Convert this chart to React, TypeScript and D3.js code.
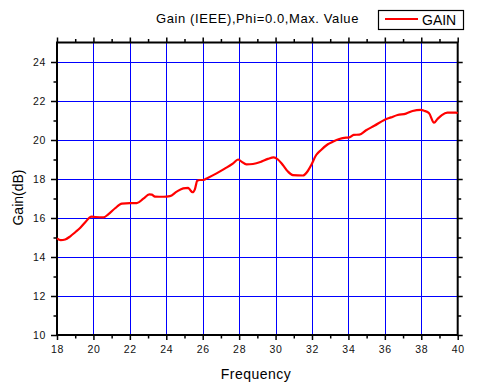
import { useEffect, useRef } from 'react';
import * as d3 from 'd3';

const frequency = [
  18.0, 18.2, 18.45, 18.73, 19.0, 19.28, 19.55, 19.78, 19.9, 20.1, 20.55, 20.83,
  21.19, 21.56, 22.0, 22.38, 22.74, 23.07, 23.2, 23.38, 23.84, 24.2, 24.57, 24.93,
  25.2, 25.3, 25.44, 25.57, 25.7, 25.84, 26.02, 26.3, 26.76, 27.21, 27.67, 27.94,
  28.13, 28.4, 28.76, 29.22, 29.58, 29.9, 30.13, 30.4, 30.68, 30.95, 31.5, 31.77,
  31.96, 32.23, 32.5, 32.87, 33.14, 33.5, 33.87, 34.05, 34.29, 34.6, 34.97, 35.42,
  35.97, 36.34, 36.7, 37.16, 37.52, 37.98, 38.16, 38.43, 38.7, 38.89, 39.13, 39.43,
  39.9, 40.0,
];

const gain = [
  14.96, 14.87, 14.9, 15.06, 15.27, 15.5, 15.78, 16.02, 16.07, 16.05, 16.03, 16.2,
  16.5, 16.74, 16.76, 16.76, 16.99, 17.21, 17.2, 17.1, 17.09, 17.12, 17.35, 17.52,
  17.55, 17.45, 17.32, 17.47, 17.91, 17.95, 17.95, 18.07, 18.29, 18.53, 18.8, 19.0,
  18.89, 18.75, 18.77, 18.89, 19.03, 19.11, 19.0, 18.72, 18.38, 18.2, 18.18, 18.41,
  18.72, 19.23, 19.49, 19.78, 19.91, 20.05, 20.12, 20.13, 20.26, 20.28, 20.5, 20.73,
  21.03, 21.16, 21.28, 21.35, 21.49, 21.55, 21.5, 21.37, 20.89, 21.08, 21.28, 21.4,
  21.4, 21.38,
];

const xTicks = [18, 20, 22, 24, 26, 28, 30, 32, 34, 36, 38, 40];
const yTicks = [10, 12, 14, 16, 18, 20, 22, 24];

const title = 'Gain (IEEE),Phi=0.0,Max. Value';
const seriesName = 'GAIN';
const xLabel = 'Frequency';
const yLabel = 'Gain(dB)';

const FONT = "Arial, 'Liberation Sans', sans-serif";

export default function App() {
  const svgRef = useRef<SVGSVGElement>(null);
  const width = 496;
  const height = 386;

  useEffect(() => {
    if (!svgRef.current) return;
    const svg = d3.select(svgRef.current);
    svg.selectAll('*').remove();

    const left = 57, right = 457.7, top = 42.5, bottom = 335;

    const x = d3.scaleLinear().domain([18, 40]).range([left, right]);
    const y = d3.scaleLinear().domain([10, 25]).range([bottom, top]);
    const px = (v: number) => Math.round(v) + 0.5; // crisp 1px lines

    svg.append('rect').attr('width', width).attr('height', height).attr('fill', '#fff');

    // grid
    const grid = svg.append('g')
      .attr('stroke', '#0000ff')
      .attr('stroke-width', 1)
      .attr('shape-rendering', 'crispEdges');
    grid.selectAll('.gx')
      .data(xTicks.filter(t => t > 18 && t < 40))
      .enter().append('line')
      .attr('x1', d => px(x(d))).attr('x2', d => px(x(d)))
      .attr('y1', top).attr('y2', bottom);
    grid.selectAll('.gy')
      .data(yTicks.filter(t => t > 10))
      .enter().append('line')
      .attr('y1', d => px(y(d))).attr('y2', d => px(y(d)))
      .attr('x1', left).attr('x2', right);

    const minorX = d3.range(19, 40, 2);
    const minorY = d3.range(11, 25, 2);

    // axes (Origin style: box with outward ticks on all sides)
    const axisStyle = (g: d3.Selection<SVGGElement, unknown, null, undefined>) => {
      g.select('.domain').remove();
      g.selectAll('line').attr('stroke', '#000').attr('stroke-width', 1.5);
    };

    const tickText = (g: d3.Selection<SVGGElement, unknown, null, undefined>) => {
      g.selectAll('text')
        .style('font-family', FONT)
        .style('font-size', '10.5px')
        .style('letter-spacing', '0.7px')
        .attr('fill', '#111');
    };

    // bottom
    svg.append('g').attr('transform', `translate(0,${bottom})`)
      .call(d3.axisBottom(x).tickValues(xTicks).tickFormat(d3.format('d')).tickSize(5).tickPadding(6))
      .call(axisStyle).call(tickText);
    svg.append('g').attr('transform', `translate(0,${bottom})`)
      .call(d3.axisBottom(x).tickValues(minorX).tickFormat(() => '').tickSize(3.5))
      .call(axisStyle);
    // top
    svg.append('g').attr('transform', `translate(0,${top})`)
      .call(d3.axisTop(x).tickValues(xTicks).tickFormat(() => '').tickSize(5))
      .call(axisStyle);
    svg.append('g').attr('transform', `translate(0,${top})`)
      .call(d3.axisTop(x).tickValues(minorX).tickFormat(() => '').tickSize(3.5))
      .call(axisStyle);
    // left
    svg.append('g').attr('transform', `translate(${left},0)`)
      .call(d3.axisLeft(y).tickValues(yTicks).tickFormat(d3.format('d')).tickSize(6).tickPadding(5))
      .call(axisStyle).call(tickText);
    svg.append('g').attr('transform', `translate(${left},0)`)
      .call(d3.axisLeft(y).tickValues(minorY).tickFormat(() => '').tickSize(3.5))
      .call(axisStyle);
    // right
    svg.append('g').attr('transform', `translate(${right},0)`)
      .call(d3.axisRight(y).tickValues(yTicks).tickFormat(() => '').tickSize(5))
      .call(axisStyle);
    svg.append('g').attr('transform', `translate(${right},0)`)
      .call(d3.axisRight(y).tickValues(minorY).tickFormat(() => '').tickSize(3.5))
      .call(axisStyle);

    // frame
    svg.append('rect')
      .attr('x', left).attr('y', top)
      .attr('width', right - left).attr('height', bottom - top)
      .attr('fill', 'none').attr('stroke', '#000').attr('stroke-width', 2);

    // curve
    const pts = frequency.map((f, i) => [f, gain[i]] as [number, number]);
    const line = d3.line<[number, number]>()
      .x(d => x(d[0]))
      .y(d => y(d[1]))
      .curve(d3.curveMonotoneX);
    svg.append('path')
      .datum(pts)
      .attr('fill', 'none')
      .attr('stroke', '#ff0000')
      .attr('stroke-width', 2.2)
      .attr('stroke-linejoin', 'round')
      .attr('d', line);

    // title
    svg.append('text')
      .attr('x', 257.5).attr('y', 22.5)
      .attr('text-anchor', 'middle')
      .style('font-family', FONT).style('font-size', '13px').style('letter-spacing', '0.6px')
      .attr('fill', '#000')
      .text(title);

    // legend
    const legend = svg.append('g');
    legend.append('rect')
      .attr('x', 378.5).attr('y', 10.5).attr('width', 85).attr('height', 19)
      .attr('fill', '#fff').attr('stroke', '#000').attr('stroke-width', 1.2);
    legend.append('line')
      .attr('x1', 385).attr('x2', 418).attr('y1', 19).attr('y2', 19)
      .attr('stroke', '#ff0000').attr('stroke-width', 2);
    legend.append('text')
      .attr('x', 422).attr('y', 24.5)
      .style('font-family', FONT).style('font-size', '14px')
      .attr('fill', '#000')
      .text(seriesName);

    // axis titles
    svg.append('text')
      .attr('x', 256).attr('y', 379)
      .attr('text-anchor', 'middle')
      .style('font-family', FONT).style('font-size', '14px').style('letter-spacing', '0.5px')
      .attr('fill', '#000')
      .text(xLabel);

    svg.append('text')
      .attr('transform', `translate(23,197.5) rotate(-90)`)
      .attr('text-anchor', 'middle')
      .style('font-family', FONT).style('font-size', '14px')
      .attr('fill', '#000')
      .text(yLabel);
  }, []);

  return (
    <div style={{ position: 'absolute', left: 0, top: 0 }}>
      <svg ref={svgRef} width={width} height={height} style={{ display: 'block' }} />
    </div>
  );
}
